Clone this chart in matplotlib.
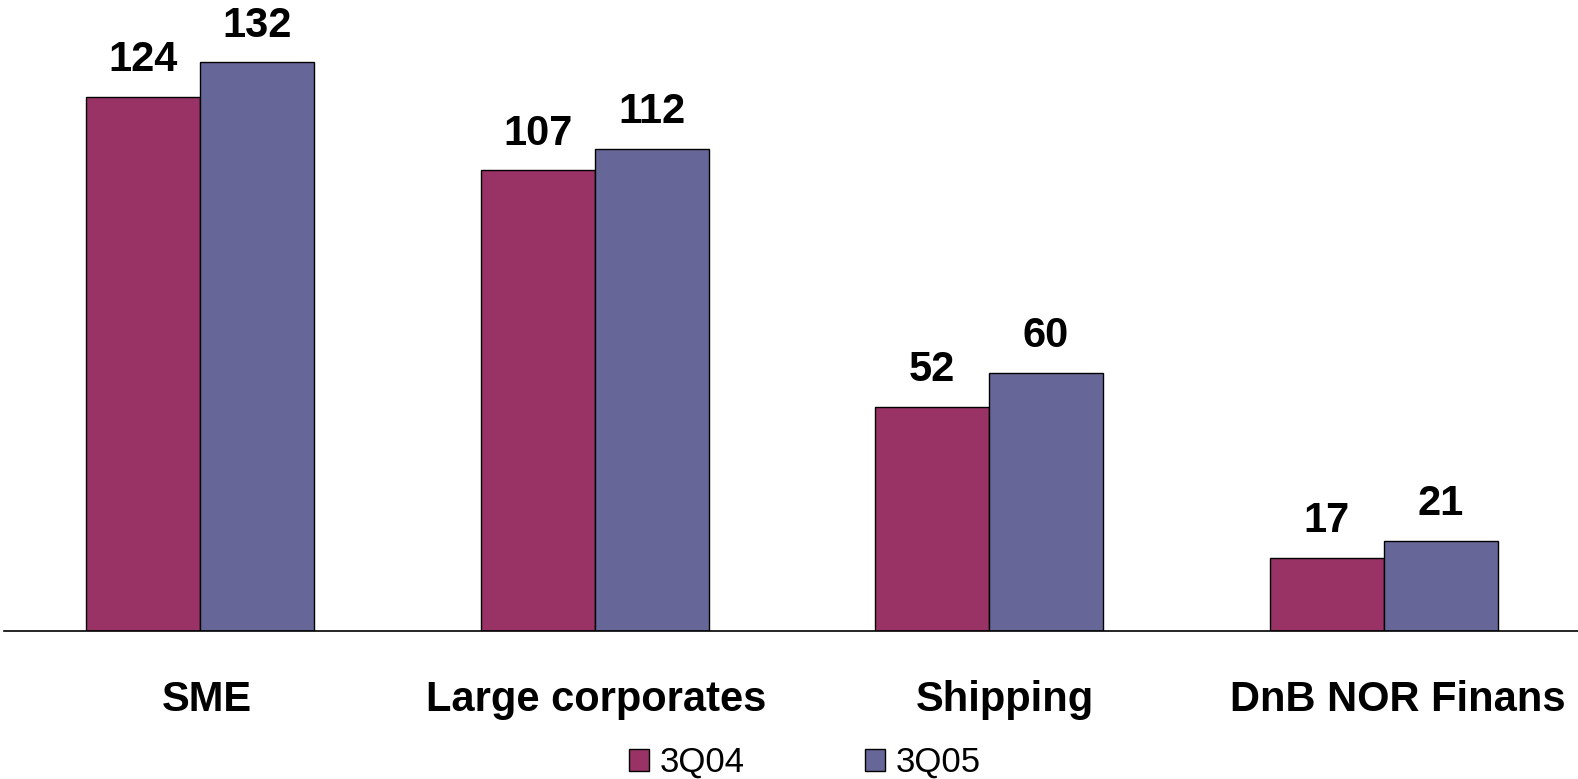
import numpy as np
import matplotlib
matplotlib.use('Agg')
from matplotlib import pyplot as plt
from matplotlib import transforms

categories = ['SME', 'Large corporates', 'Shipping', 'DnB NOR Finans']
series = ['3Q04', '3Q05']
q304 = [124, 107, 52, 17]
q305 = [132, 112, 60, 21]
colors = ['#993366', '#666699']

plt.rcParams['font.family'] = ['Liberation Sans', 'DejaVu Sans']

fig = plt.figure(figsize=(15.78, 7.79), dpi=100)
ax = fig.add_axes([0.0026, 0.19, 0.9974, 0.774])

x = np.arange(len(categories))
w = 0.289
for vals, off, c, name in [(q304, -w / 2, colors[0], series[0]),
                           (q305, w / 2, colors[1], series[1])]:
    bars = ax.bar(x + off, vals, w, color=c, edgecolor='black',
                  linewidth=1, label=name)
    for b, v in zip(bars, vals):
        ax.annotate(str(v), (b.get_x() + b.get_width() / 2, v),
                    xytext=(0, 12), textcoords='offset points',
                    ha='center', va='bottom', fontsize=30,
                    fontweight='bold')

ax.set_xlim(-0.497, 3.493)
ax.set_ylim(0, 140)
ax.set_xticks(x)
ax.set_xticklabels(categories, fontsize=30, fontweight='bold')
ax.tick_params(axis='x', length=0, pad=35)
# labels in the original are not exactly centred under the groups
for lab, dx in zip(ax.get_xticklabels(), [7, 2, 16, 14]):
    lab.set_transform(lab.get_transform() +
                      transforms.ScaledTranslation(dx / 100, 0, fig.dpi_scale_trans))
ax.set_yticks([])
for s in ['top', 'right', 'left']:
    ax.spines[s].set_visible(False)
ax.spines['bottom'].set_linewidth(1.2)

fig.legend(loc='center', bbox_to_anchor=(0.510, 0.021), ncol=2,
           frameon=False, fontsize=25, handlelength=0.6,
           handleheight=0.6, handletextpad=0.3, columnspacing=3.45)

fig.savefig('out.png')
